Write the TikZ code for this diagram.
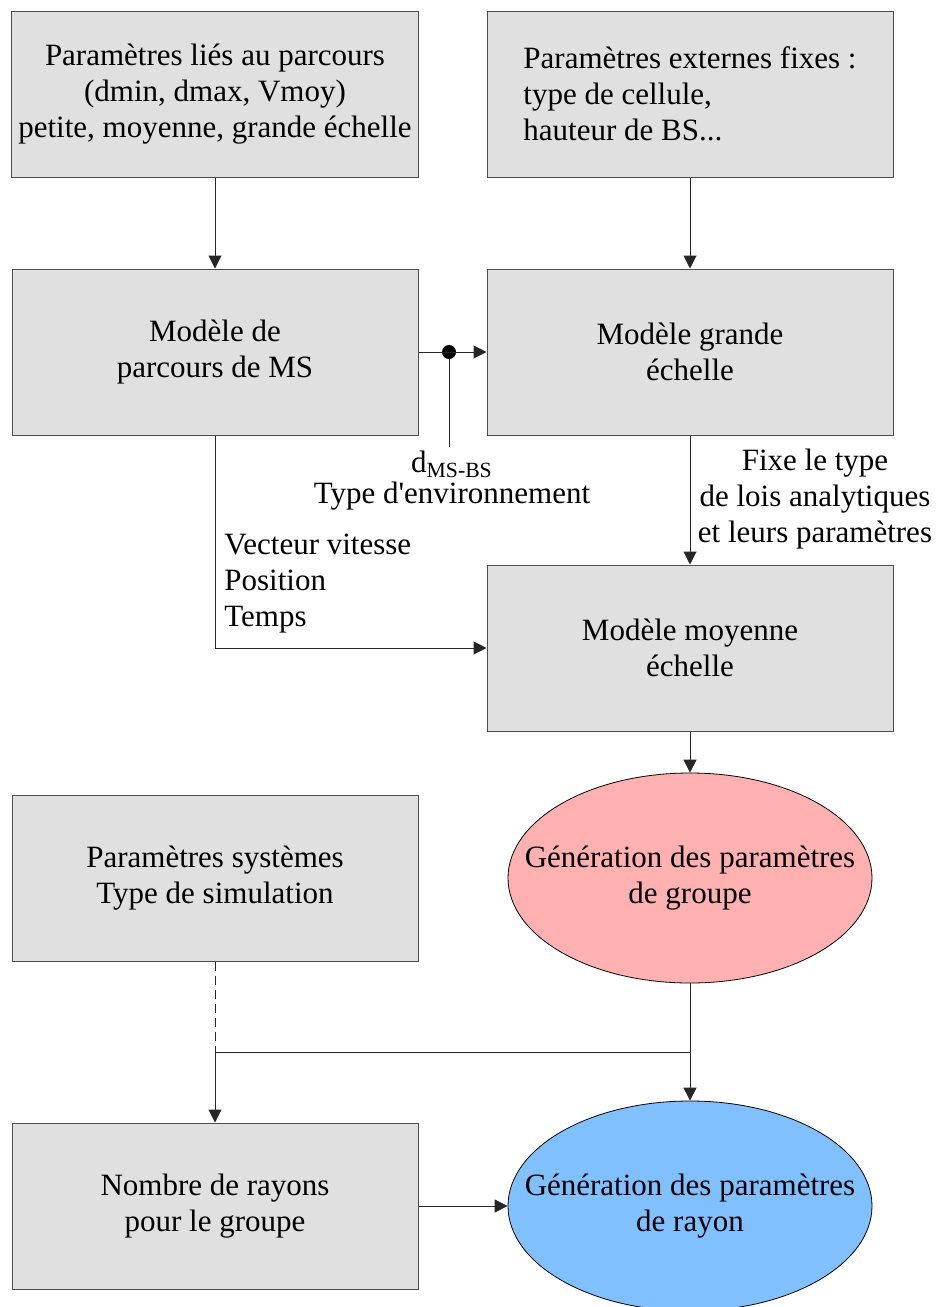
\documentclass[tikz,border=0pt]{standalone}
\usepackage{fontspec}
\setmainfont{Liberation Serif}
\usepackage{xcolor}
\usepackage{tikz}
\usetikzlibrary{positioning, arrows.meta, shapes.geometric}

\definecolor{boxgray}{HTML}{E0E0E0}
\definecolor{groupred}{HTML}{FFB0B0}
\definecolor{rayblue}{HTML}{80C0FF}

\newcommand{\straightquote}{\XeTeXglyph\XeTeXcharglyph"27\relax}

\begin{document}
\begin{tikzpicture}[
    x=0.5pt, y=-0.5pt,
    font=\fontsize{15.5}{18}\selectfont,
    block/.style={rectangle, draw=black!70, line width=0.5pt, fill=boxgray, minimum width=203pt, minimum height=83pt, align=center},
    gen/.style={ellipse, draw=black, line width=0.4pt, minimum width=182pt, minimum height=105pt, align=center, inner xsep=-40pt, inner ysep=0pt},
    lbl/.style={inner sep=1pt, align=center},
    link/.style={line width=0.5pt, draw=black!85},
    arr/.style={link, -{Triangle[length=6.5pt, width=6.5pt]}}
]
\useasboundingbox (0,0) rectangle (938,1307);

% Nodes
\node[block] (ppar) at (215,94) {Paramètres liés au parcours\\(dmin, dmax, Vmoy)\\petite, moyenne, grande échelle};
\node[block, align=left] (pext) at (690,94) {Paramètres externes fixes :\\type de cellule,\\hauteur de BS...};

\node[block] (mpar) at (215,352) {Modèle de\\parcours de MS};
\node[block] (mge) at (690,352) {Modèle grande\\échelle};
\node[block] (mme) at (690,648) {Modèle moyenne\\échelle};

\node[block] (psys) at (215,878) {Paramètres systèmes\\Type de simulation};
\node[gen, fill=groupred] (ggrp) at (690,878) {Génération des paramètres\\de groupe};

\node[block] (nray) at (215,1206) {Nombre de rayons\\pour le groupe};
\node[gen, fill=rayblue] (gray) at (690,1206) {Génération des paramètres\\de rayon};

\node[circle, fill=black, inner sep=0pt, minimum size=7pt] (dot) at (449,352) {};
\coordinate (dend) at (449,447);
\node[lbl, anchor=north] (dlab) at (452,449) {d\textsubscript{MS-BS}};
\node[lbl, below=0pt of dlab] (envlab) {Type d\straightquote environnement};

\node[lbl] (lois) at (815,499) {Fixe le type\\de lois analytiques\\et leurs paramètres};
\node[lbl, anchor=west, align=left] (vit) at (222,584) {Vecteur vitesse\\Position\\Temps};

\coordinate (jl) at (215,1052);
\coordinate (jr) at (690,1052);

% Edges
\draw[arr] (ppar) -- (mpar);
\draw[arr] (pext) -- (mge);
\draw[arr] (mpar) -- (mge);
\draw[link] (dot) -- (dend);
\draw[arr] (mge) -- (mme);
\draw[arr] (mpar.south) |- (mme.west);
\draw[arr] (mme) -- (ggrp);
\draw[link, dash pattern=on 4.5pt off 2.5pt] (psys) -- (jl);
\draw[link] (ggrp) -- (jr) -- (jl);
\draw[arr] (jl) -- (nray);
\draw[arr] (jr) -- (gray);
\draw[arr] (nray) -- (gray);

\end{tikzpicture}
\end{document}
